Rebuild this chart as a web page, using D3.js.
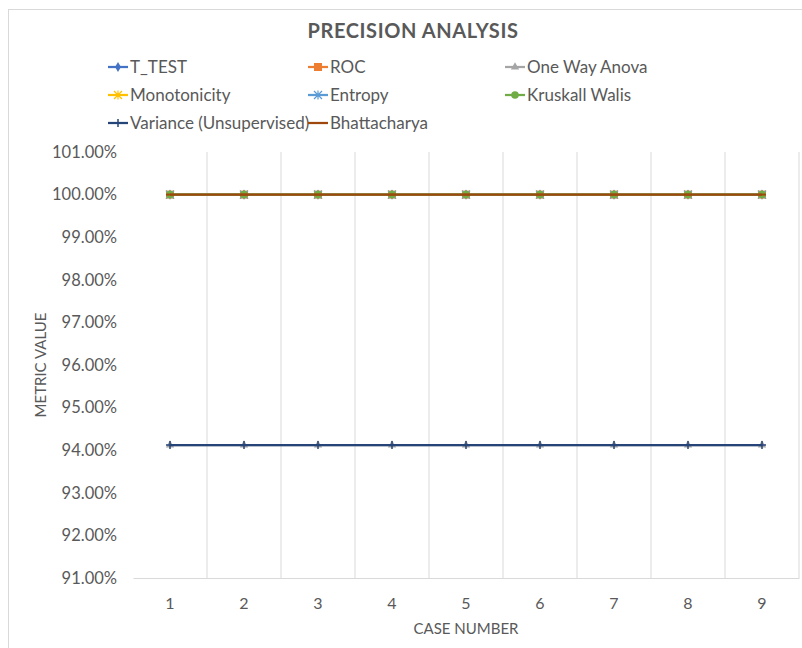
<!DOCTYPE html>
<html>
<head>
<meta charset="utf-8">
<script src="https://cdn.jsdelivr.net/npm/d3@7"></script>
<style>
  body { margin: 0; background: #fff; }
  text { font-family: Lato, "Open Sans", sans-serif; fill: #595959; }
</style>
</head>
<body>
<svg id="chart" width="802" height="648"></svg>
<script>
// Precision per case for each feature-selection method
const cases = [1, 2, 3, 4, 5, 6, 7, 8, 9];
const seriesNames = ["T_TEST", "ROC", "One Way Anova", "Monotonicity", "Entropy",
                     "Kruskall Walis", "Variance (Unsupervised)", "Bhattacharya"];
const tTest        = [1, 1, 1, 1, 1, 1, 1, 1, 1];
const roc          = [1, 1, 1, 1, 1, 1, 1, 1, 1];
const oneWayAnova  = [0.9412, 0.9412, 0.9412, 0.9412, 0.9412, 0.9412, 0.9412, 0.9412, 0.9412];
const monotonicity = [1, 1, 1, 1, 1, 1, 1, 1, 1];
const entropy      = [1, 1, 1, 1, 1, 1, 1, 1, 1];
const kruskall     = [1, 1, 1, 1, 1, 1, 1, 1, 1];
const variance     = [0.9412, 0.9412, 0.9412, 0.9412, 0.9412, 0.9412, 0.9412, 0.9412, 0.9412];
const bhatta       = [1, 1, 1, 1, 1, 1, 1, 1, 1];
const yTicks = [0.91, 0.92, 0.93, 0.94, 0.95, 0.96, 0.97, 0.98, 0.99, 1.00, 1.01];

const colors = ["#4472C4", "#ED7D31", "#A5A5A5", "#FFC000", "#5B9BD5", "#70AD47", "#264478", "#9E480E"];
const markers = ["diamond", "square", "triangle", "star", "asterisk", "circle", "plus", "dash"];
const values = [tTest, roc, oneWayAnova, monotonicity, entropy, kruskall, variance, bhatta];
const series = seriesNames.map((n, i) => ({ name: n, color: colors[i], marker: markers[i], values: values[i] }));

const svg = d3.select("#chart");

// chart border
svg.append("rect").attr("x", 8.5).attr("y", 9.5).attr("width", 800).attr("height", 650)
  .attr("fill", "none").attr("stroke", "#d9d9d9");

const plot = { left: 133, right: 799, top: 152, bottom: 578 };

const x = d3.scaleBand().domain(cases).range([plot.left, plot.right]);
const y = d3.scaleLinear().domain([0.91, 1.01]).range([plot.bottom, plot.top]);

// vertical gridlines at category boundaries
const bounds = cases.map(c => x(c)).concat([plot.right]).slice(1);
svg.append("g").selectAll("line").data(bounds).join("line")
  .attr("x1", d => d).attr("x2", d => d)
  .attr("y1", plot.top).attr("y2", plot.bottom)
  .attr("stroke", "#d9d9d9").attr("stroke-width", 1);

// x axis
const xAxis = svg.append("g").attr("transform", `translate(0,${plot.bottom})`)
  .call(d3.axisBottom(x).tickSize(0).tickPadding(20));
xAxis.select(".domain").attr("stroke", "#d9d9d9");
xAxis.selectAll("text").style("font-size", "16px").attr("fill", "#595959")
  .style("font-family", "Lato, 'Open Sans', sans-serif");

// y axis
const yAxis = svg.append("g").attr("transform", `translate(${plot.left},0)`)
  .call(d3.axisLeft(y).tickValues(yTicks).tickFormat(d3.format(".2%")).tickSize(0).tickPadding(16));
yAxis.select(".domain").remove();
yAxis.selectAll("text").style("font-size", "16.5px").attr("fill", "#595959")
  .style("font-family", "Lato, 'Open Sans', sans-serif");

// axis titles
svg.append("text").attr("x", (plot.left + plot.right) / 2).attr("y", 634)
  .attr("text-anchor", "middle").style("font-size", "15px").text("CASE NUMBER");
svg.append("text").attr("transform", `translate(46,${(plot.top + plot.bottom) / 2}) rotate(-90)`)
  .attr("text-anchor", "middle").style("font-size", "15px").text("METRIC VALUE");

// title
svg.append("text").attr("x", 413).attr("y", 38).attr("text-anchor", "middle")
  .style("font-size", "20px").style("font-weight", "bold").style("letter-spacing", "0.6px")
  .text("PRECISION ANALYSIS");

function drawMarker(g, type, color) {
  if (type === "diamond") {
    g.append("path").attr("d", d3.symbol(d3.symbolDiamond, 30)()).attr("fill", color);
  } else if (type === "square") {
    g.append("rect").attr("x", -4).attr("y", -4).attr("width", 8).attr("height", 8).attr("fill", color);
  } else if (type === "triangle") {
    g.append("path").attr("d", d3.symbol(d3.symbolTriangle, 30)()).attr("fill", color);
  } else if (type === "circle") {
    g.append("circle").attr("r", 3.8).attr("fill", color);
  } else if (type === "star") {
    g.append("path").attr("d", "M-4,-4L4,4M-4,4L4,-4M0,-4.5V4.5").attr("stroke", color).attr("stroke-width", 1.2);
  } else if (type === "asterisk") {
    g.append("path").attr("d", "M-4,-4L4,4M-4,4L4,-4M0,-4.5V4.5").attr("stroke", color).attr("stroke-width", 1.2);
  } else if (type === "plus") {
    g.append("path").attr("d", "M-4,0H4M0,-4V4").attr("stroke", color).attr("stroke-width", 1.5);
  } else if (type === "dash") {
    g.append("path").attr("d", "M-4,0H4").attr("stroke", color).attr("stroke-width", 2);
  }
}

const cx = c => x(c) + x.bandwidth() / 2;
const line = d3.line().x((d, i) => cx(cases[i])).y(d => y(d));

// series lines with markers
series.forEach(s => {
  const g = svg.append("g");
  g.append("path").datum(s.values).attr("d", line).attr("fill", "none")
    .attr("stroke", s.color).attr("stroke-width", 2.25);
  s.values.forEach((v, i) => {
    const m = g.append("g").attr("transform", `translate(${cx(cases[i])},${y(v)})`);
    drawMarker(m, s.marker, s.color);
  });
});

// legend
const legendCols = [108, 308, 505];
const legendRows = [67, 95, 123];
series.forEach((s, i) => {
  const lx = legendCols[i % 3], ly = legendRows[Math.floor(i / 3)];
  const g = svg.append("g").attr("transform", `translate(${lx},${ly})`);
  g.append("line").attr("x1", 0).attr("x2", 20).attr("stroke", s.color).attr("stroke-width", 2.25);
  const m = g.append("g").attr("transform", "translate(10,0)");
  drawMarker(m, s.marker, s.color);
  g.append("text").attr("x", 22).attr("y", 6).style("font-size", "17px").text(s.name);
});
</script>
</body>
</html>
